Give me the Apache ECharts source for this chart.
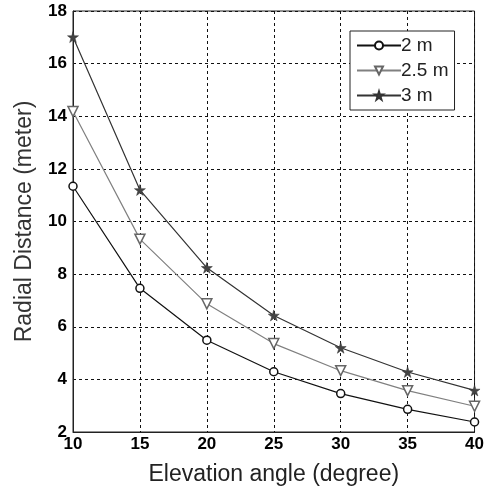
<!DOCTYPE html>
<html>
<head>
<meta charset="utf-8">
<script src="https://cdn.jsdelivr.net/npm/echarts@6/dist/echarts.min.js"></script>
<style>
  html, body { margin: 0; padding: 0; background: #fff; }
  #chart { width: 487px; height: 491px; }
</style>
</head>
<body>
<div id="chart"></div>
<script>
// elevation angle in degrees
const angles = [10, 15, 20, 25, 30, 35, 40];
// radial distance (meter) for each height
const h2 = [11.34, 7.46, 5.49, 4.29, 3.46, 2.86, 2.38];
const h25 = [14.18, 9.33, 6.87, 5.36, 4.33, 3.57, 2.98];
const h3 = [17.01, 11.2, 8.24, 6.43, 5.2, 4.28, 3.58];
const yTicks = [2, 4, 6, 8, 10, 12, 14, 16, 18];

const star = "path://M50,0 L61,35 L98,35 L68,57 L79,91 L50,70 L21,91 L32,57 L2,35 L39,35 Z";

function pairs(ys) {
  return angles.map((a, i) => [a, ys[i]]);
}

const chart = echarts.init(document.getElementById("chart"));

const dash = { color: "#111", type: [3, 3], width: 1 };

chart.setOption({
  animation: false,
  grid: { left: 73, right: 7, top: 11, bottom: 58, show: true, borderColor: "#222", borderWidth: 1 },
  legend: {
    left: 350,
    top: 31,
    orient: "vertical",
    backgroundColor: "#fff",
    borderColor: "#222",
    borderWidth: 1,
    borderRadius: 0,
    padding: [5, 6, 5, 6],
    itemGap: 6,
    itemWidth: 44,
    itemHeight: 10,
    textStyle: { fontFamily: "Liberation Sans", fontSize: 19, color: "#222", padding: [0, 0, 0, -5] },
    data: ["2 m", "2.5 m", "3 m"]
  },
  xAxis: {
    type: "value",
    min: 10,
    max: 40,
    interval: 5,
    name: "Elevation angle (degree)",
    nameLocation: "middle",
    nameGap: 31,
    nameTextStyle: { fontFamily: "Liberation Sans", fontSize: 23, color: "#222" },
    axisLine: { lineStyle: { color: "#222" } },
    axisTick: { show: false },
    axisLabel: { fontFamily: "Liberation Sans", fontWeight: "bold", fontSize: 17, color: "#000", margin: 4 },
    splitLine: { show: true, lineStyle: dash }
  },
  yAxis: {
    type: "value",
    min: 2,
    max: 18,
    interval: 2,
    name: "Radial Distance (meter)",
    nameLocation: "middle",
    nameGap: 37,
    nameTextStyle: { fontFamily: "Liberation Sans", fontSize: 23, color: "#333" },
    axisLine: { lineStyle: { color: "#222" } },
    axisTick: { show: false },
    axisLabel: {
      fontFamily: "Liberation Sans", fontWeight: "bold", fontSize: 17, color: "#000", margin: 6,
      formatter: v => (yTicks.includes(v) ? String(v) : "")
    },
    splitLine: { show: true, lineStyle: dash }
  },
  series: [
    {
      name: "2 m",
      type: "line",
      data: pairs(h2),
      symbol: "circle",
      symbolSize: 8,
      lineStyle: { color: "#111", width: 1.2 },
      itemStyle: { color: "#fff", borderColor: "#111", borderWidth: 1.5 },
      z: 3
    },
    {
      name: "2.5 m",
      type: "line",
      data: pairs(h25),
      symbol: "triangle",
      symbolRotate: 180,
      symbolSize: 10,
      lineStyle: { color: "#808080", width: 1.2 },
      itemStyle: { color: "#fff", borderColor: "#666", borderWidth: 1.5 },
      z: 3
    },
    {
      name: "3 m",
      type: "line",
      data: pairs(h3),
      symbol: star,
      symbolSize: 11,
      lineStyle: { color: "#333", width: 1.2 },
      itemStyle: { color: "#444", borderColor: "#333", borderWidth: 0.5 },
      z: 3
    }
  ]
});
</script>
</body>
</html>
